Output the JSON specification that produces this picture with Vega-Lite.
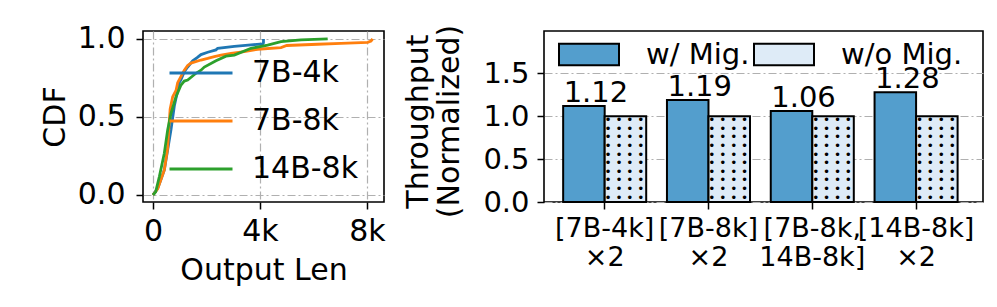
{
  "$schema": "https://vega.github.io/schema/vega-lite/v6.json",
  "padding": {"left": 39, "top": 23, "right": 0, "bottom": 0},
  "config": {
    "font": "DejaVu Sans",
    "view": {"stroke": "black", "strokeWidth": 1.6},
    "axis": {
      "gridColor": "#b0b0b0", "gridDash": [8, 3, 2, 3], "gridWidth": 1.2,
      "domain": false, "tickColor": "black", "tickSize": 7, "tickWidth": 1.5,
      "labelColor": "black", "titleColor": "black", "titleFontWeight": "normal"
    }
  },
  "datasets": {
    "cdf": [
      {"model": "7B-4k", "i": 0, "len": 0, "cdf": 0},
      {"model": "7B-4k", "i": 1, "len": 175, "cdf": 0.043},
      {"model": "7B-4k", "i": 2, "len": 300, "cdf": 0.1},
      {"model": "7B-4k", "i": 3, "len": 423, "cdf": 0.16},
      {"model": "7B-4k", "i": 4, "len": 548, "cdf": 0.29},
      {"model": "7B-4k", "i": 5, "len": 673, "cdf": 0.42},
      {"model": "7B-4k", "i": 6, "len": 797, "cdf": 0.57},
      {"model": "7B-4k", "i": 7, "len": 922, "cdf": 0.67},
      {"model": "7B-4k", "i": 8, "len": 984, "cdf": 0.72},
      {"model": "7B-4k", "i": 9, "len": 1047, "cdf": 0.74},
      {"model": "7B-4k", "i": 10, "len": 1170, "cdf": 0.79},
      {"model": "7B-4k", "i": 11, "len": 1296, "cdf": 0.82},
      {"model": "7B-4k", "i": 12, "len": 1484, "cdf": 0.86},
      {"model": "7B-4k", "i": 13, "len": 1650, "cdf": 0.88},
      {"model": "7B-4k", "i": 14, "len": 1794, "cdf": 0.9},
      {"model": "7B-4k", "i": 15, "len": 2045, "cdf": 0.915},
      {"model": "7B-4k", "i": 16, "len": 2355, "cdf": 0.93},
      {"model": "7B-4k", "i": 17, "len": 2418, "cdf": 0.94},
      {"model": "7B-4k", "i": 18, "len": 3040, "cdf": 0.952},
      {"model": "7B-4k", "i": 19, "len": 3663, "cdf": 0.962},
      {"model": "7B-4k", "i": 20, "len": 4100, "cdf": 0.968},
      {"model": "7B-4k", "i": 21, "len": 4130, "cdf": 0.975},
      {"model": "7B-4k", "i": 22, "len": 4130, "cdf": 1.0},
      {"model": "7B-8k", "i": 0, "len": 0, "cdf": 0},
      {"model": "7B-8k", "i": 1, "len": 175, "cdf": 0.04},
      {"model": "7B-8k", "i": 2, "len": 423, "cdf": 0.16},
      {"model": "7B-8k", "i": 3, "len": 548, "cdf": 0.3},
      {"model": "7B-8k", "i": 4, "len": 600, "cdf": 0.45},
      {"model": "7B-8k", "i": 5, "len": 640, "cdf": 0.55},
      {"model": "7B-8k", "i": 6, "len": 736, "cdf": 0.63},
      {"model": "7B-8k", "i": 7, "len": 860, "cdf": 0.67},
      {"model": "7B-8k", "i": 8, "len": 922, "cdf": 0.72},
      {"model": "7B-8k", "i": 9, "len": 1047, "cdf": 0.76},
      {"model": "7B-8k", "i": 10, "len": 1170, "cdf": 0.8},
      {"model": "7B-8k", "i": 11, "len": 1296, "cdf": 0.83},
      {"model": "7B-8k", "i": 12, "len": 1420, "cdf": 0.845},
      {"model": "7B-8k", "i": 13, "len": 1794, "cdf": 0.865},
      {"model": "7B-8k", "i": 14, "len": 2045, "cdf": 0.875},
      {"model": "7B-8k", "i": 15, "len": 2293, "cdf": 0.887},
      {"model": "7B-8k", "i": 16, "len": 2542, "cdf": 0.897},
      {"model": "7B-8k", "i": 17, "len": 2916, "cdf": 0.908},
      {"model": "7B-8k", "i": 18, "len": 3413, "cdf": 0.919},
      {"model": "7B-8k", "i": 19, "len": 3912, "cdf": 0.934},
      {"model": "7B-8k", "i": 20, "len": 4785, "cdf": 0.945},
      {"model": "7B-8k", "i": 21, "len": 5000, "cdf": 0.958},
      {"model": "7B-8k", "i": 22, "len": 6156, "cdf": 0.966},
      {"model": "7B-8k", "i": 23, "len": 7028, "cdf": 0.972},
      {"model": "7B-8k", "i": 24, "len": 8025, "cdf": 0.978},
      {"model": "7B-8k", "i": 25, "len": 8150, "cdf": 0.986},
      {"model": "7B-8k", "i": 26, "len": 8212, "cdf": 1.0},
      {"model": "14B-8k", "i": 0, "len": 0, "cdf": 0},
      {"model": "14B-8k", "i": 1, "len": 100, "cdf": 0.02},
      {"model": "14B-8k", "i": 2, "len": 236, "cdf": 0.117},
      {"model": "14B-8k", "i": 3, "len": 423, "cdf": 0.267},
      {"model": "14B-8k", "i": 4, "len": 548, "cdf": 0.417},
      {"model": "14B-8k", "i": 5, "len": 673, "cdf": 0.524},
      {"model": "14B-8k", "i": 6, "len": 860, "cdf": 0.63},
      {"model": "14B-8k", "i": 7, "len": 1047, "cdf": 0.705},
      {"model": "14B-8k", "i": 8, "len": 1170, "cdf": 0.73},
      {"model": "14B-8k", "i": 9, "len": 1296, "cdf": 0.737},
      {"model": "14B-8k", "i": 10, "len": 1607, "cdf": 0.78},
      {"model": "14B-8k", "i": 11, "len": 1794, "cdf": 0.8},
      {"model": "14B-8k", "i": 12, "len": 1918, "cdf": 0.82},
      {"model": "14B-8k", "i": 13, "len": 2355, "cdf": 0.86},
      {"model": "14B-8k", "i": 14, "len": 2729, "cdf": 0.89},
      {"model": "14B-8k", "i": 15, "len": 3040, "cdf": 0.897},
      {"model": "14B-8k", "i": 16, "len": 3663, "cdf": 0.94},
      {"model": "14B-8k", "i": 17, "len": 4287, "cdf": 0.96},
      {"model": "14B-8k", "i": 18, "len": 4785, "cdf": 0.983},
      {"model": "14B-8k", "i": 19, "len": 5532, "cdf": 0.994},
      {"model": "14B-8k", "i": 20, "len": 6530, "cdf": 1.0}
    ],
    "bars": [
      {"cfg": "[7B-4k]|×2", "method": "w/ Mig.", "tp": 1.12},
      {"cfg": "[7B-4k]|×2", "method": "w/o Mig.", "tp": 1.0},
      {"cfg": "[7B-8k]|×2", "method": "w/ Mig.", "tp": 1.19},
      {"cfg": "[7B-8k]|×2", "method": "w/o Mig.", "tp": 1.0},
      {"cfg": "[7B-8k,|14B-8k]", "method": "w/ Mig.", "tp": 1.06},
      {"cfg": "[7B-8k,|14B-8k]", "method": "w/o Mig.", "tp": 1.0},
      {"cfg": "[14B-8k]|×2", "method": "w/ Mig.", "tp": 1.28},
      {"cfg": "[14B-8k]|×2", "method": "w/o Mig.", "tp": 1.0}
    ]
  },
  "spacing": 16,
  "hconcat": [
    {
      "width": 241,
      "height": 171,
      "data": {"name": "cdf"},
      "mark": {"type": "line", "strokeWidth": 2.8},
      "encoding": {
        "x": {
          "field": "len", "type": "quantitative",
          "scale": {"domain": [-374, 8636], "nice": false, "zero": false},
          "axis": {
            "values": [0, 4000, 8000],
            "labelExpr": "datum.value == 0 ? '0' : (datum.value / 1000) + 'k'",
            "title": "Output Len", "labelFontSize": 30, "titleFontSize": 30,
            "labelPadding": 7, "titlePadding": 9, "labelFlush": false
          }
        },
        "y": {
          "field": "cdf", "type": "quantitative",
          "scale": {"domain": [-0.045, 1.051], "nice": false, "zero": false},
          "axis": {
            "values": [0, 0.5, 1], "format": ".1f", "title": "CDF",
            "labelFontSize": 30, "titleFontSize": 30, "labelPadding": 11, "titlePadding": 7,
            "labelFlush": false
          }
        },
        "color": {
          "field": "model", "type": "nominal",
          "scale": {"domain": ["7B-4k", "7B-8k", "14B-8k"], "range": ["#1f77b4", "#ff7f0e", "#2ca02c"]},
          "legend": {
            "orient": "none", "legendX": 25, "legendY": 9, "title": null,
            "symbolType": "stroke", "symbolSize": 3969, "symbolStrokeWidth": 3,
            "labelFontSize": 30, "labelOffset": 18, "rowPadding": -14, "labelColor": "black"
          }
        },
        "order": {"field": "i", "type": "quantitative"}
      }
    },
    {
      "width": 439,
      "height": 171,
      "data": {"name": "bars"},
      "encoding": {
        "x": {
          "field": "cfg", "type": "nominal", "sort": null,
          "scale": {"paddingInner": 0.2, "paddingOuter": 0.2146, "align": 0.43},
          "axis": {
            "labelExpr": "split(datum.value, '|')", "labelAngle": 0, "title": null,
            "labelFontSize": 27, "labelLineHeight": 29, "labelPadding": 6, "labelLimit": 300
          }
        },
        "xOffset": {"field": "method", "type": "nominal", "sort": ["w/ Mig.", "w/o Mig."]},
        "y": {
          "field": "tp", "type": "quantitative",
          "scale": {"domain": [0, 1.993], "nice": false},
          "axis": {
            "values": [0, 0.5, 1, 1.5], "format": ".1f",
            "title": ["Throughput", "(Normalized)"], "titleLineHeight": 31, "titleY": 90,
            "labelFontSize": 29, "titleFontSize": 30, "labelPadding": 8, "titlePadding": 18
          }
        }
      },
      "layer": [
        {
          "mark": {"type": "bar", "stroke": "black", "strokeWidth": 2},
          "encoding": {
            "fill": {
              "field": "method", "type": "nominal",
              "scale": {"domain": ["w/ Mig.", "w/o Mig."], "range": ["#539ecd", "#deebf7"]},
              "legend": {
                "orient": "none", "direction": "horizontal", "legendX": 415, "legendY": -7.5,
                "title": null, "symbolType": "M-1,-0.36H1V0.36H-1Z", "symbolSize": 3600,
                "symbolStrokeColor": "black", "symbolStrokeWidth": 2, "symbolOpacity": 1,
                "labelFontSize": 29, "labelOffset": 26, "columnPadding": 0, "labelColor": "black"
              }
            }
          }
        },
        {
          "transform": [{"filter": "datum.method == 'w/o Mig.'"}],
          "mark": {
            "type": "text", "baseline": "top", "align": "center", "dy": -1, "dx": -1,
            "fontSize": 12, "lineHeight": 8.6, "color": "black",
            "text": ["• • • •", "• • • •", "• • • •", "• • • •", "• • • •", "• • • •", "• • • •", "• • • •", "• • • •", "• • • •"]
          }
        },
        {
          "transform": [{"filter": "datum.method == 'w/ Mig.'"}],
          "mark": {"type": "text", "dx": 12, "dy": -4, "baseline": "alphabetic", "fontSize": 29, "color": "black"},
          "encoding": {"text": {"field": "tp", "type": "quantitative", "format": ".2f"}}
        }
      ]
    }
  ]
}
